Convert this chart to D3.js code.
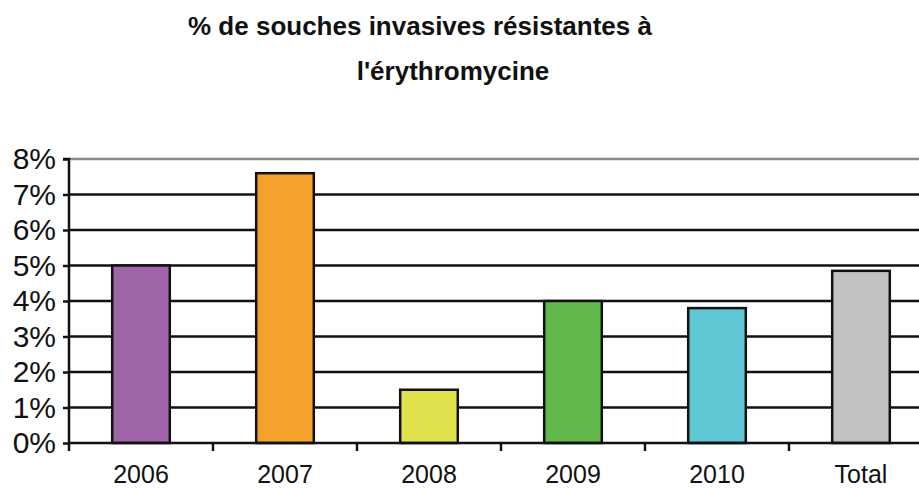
<!DOCTYPE html>
<html>
<head>
<meta charset="utf-8">
<script src="https://cdn.jsdelivr.net/npm/d3@7"></script>
<style>
  html, body { margin: 0; padding: 0; background: #fff; }
  svg { display: block; }
</style>
</head>
<body>
<svg id="chart" width="919" height="489"></svg>
<script>
// Share of invasive strains resistant to erythromycin, by year
const categories = ["2006", "2007", "2008", "2009", "2010", "Total"];
const values = [5.0, 7.6, 1.5, 4.0, 3.8, 4.85];
const colors = ["#a064a8", "#f5a22d", "#e0e24c", "#62b84a", "#5fc6d4", "#c0c1c0"];
const yTicks = [0, 1, 2, 3, 4, 5, 6, 7, 8];
const titleLines = ["% de souches invasives résistantes à", "l'érythromycine"];

const svg = d3.select("#chart");
const margin = { left: 69, top: 159, bottom: 443 };
const step = 144;

const x = d3.scaleBand()
  .domain(categories)
  .range([margin.left, margin.left + step * categories.length])
  .paddingInner(0.6)
  .paddingOuter(0.3);

const y = d3.scaleLinear().domain([0, 8]).range([margin.bottom, margin.top]);

// Horizontal gridlines (top one lighter)
svg.append("g").selectAll("line")
  .data(yTicks.filter(d => d > 0))
  .join("line")
  .attr("x1", margin.left).attr("x2", 919)
  .attr("y1", d => y(d)).attr("y2", d => y(d))
  .attr("stroke", d => d === 8 ? "#8a8a8a" : "#111")
  .attr("stroke-width", 2.5);

// Bars
svg.append("g").selectAll("rect")
  .data(categories)
  .join("rect")
  .attr("x", d => x(d))
  .attr("width", x.bandwidth())
  .attr("y", (d, i) => y(values[i]))
  .attr("height", (d, i) => y(0) - y(values[i]))
  .attr("fill", (d, i) => colors[i])
  .attr("stroke", "#111")
  .attr("stroke-width", 2.5);

// Y axis
const yAxis = svg.append("g")
  .attr("transform", `translate(${margin.left},0)`)
  .call(d3.axisLeft(y).tickValues(yTicks).tickFormat(d => d + "%").tickSize(6).tickPadding(7));
yAxis.select(".domain").attr("stroke", "#111").attr("stroke-width", 2.5).attr("d", `M-6,${y(8)}H0V${y(0) + 8}`);
yAxis.selectAll(".tick line").attr("stroke", "#111").attr("stroke-width", 2.5);
yAxis.selectAll("text")
  .attr("font-family", "Liberation Sans, Arial, sans-serif")
  .attr("font-size", 30)
  .attr("fill", "#111");

// X axis with separators between categories
svg.append("line")
  .attr("x1", margin.left).attr("x2", 919)
  .attr("y1", y(0)).attr("y2", y(0))
  .attr("stroke", "#111").attr("stroke-width", 2.5);

svg.append("g").selectAll("line")
  .data(d3.range(1, categories.length))
  .join("line")
  .attr("x1", i => margin.left + i * x.step())
  .attr("x2", i => margin.left + i * x.step())
  .attr("y1", y(0)).attr("y2", y(0) + 8)
  .attr("stroke", "#111").attr("stroke-width", 2.5);

svg.append("g").selectAll("text")
  .data(categories)
  .join("text")
  .attr("x", d => x(d) + x.bandwidth() / 2)
  .attr("y", 483)
  .attr("text-anchor", "middle")
  .attr("font-family", "Liberation Sans, Arial, sans-serif")
  .attr("font-size", 25)
  .attr("fill", "#111")
  .text(d => d);

// Title
svg.append("g").selectAll("text")
  .data(titleLines)
  .join("text")
  .attr("x", (d, i) => i === 0 ? 420 : 453)
  .attr("y", (d, i) => 35 + i * 45)
  .attr("text-anchor", "middle")
  .attr("font-family", "Liberation Sans, Arial, sans-serif")
  .attr("font-weight", "bold")
  .attr("font-size", 26)
  .attr("fill", "#111")
  .text(d => d);
</script>
</body>
</html>
